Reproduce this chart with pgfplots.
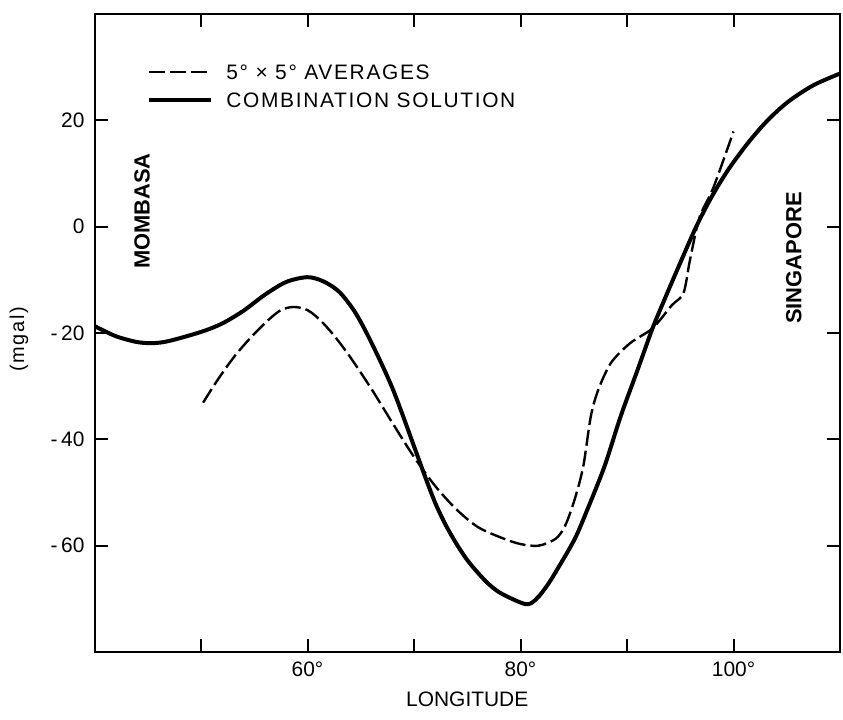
\documentclass[border=0pt]{standalone}
\usepackage{fontspec}
\setmainfont{Liberation Sans}
\usepackage{pgfplots}
\pgfplotsset{compat=1.18}

% combination solution (solid)
\pgfplotstableread{
x y
40 -18.7
42 -20.6
44 -21.7
45.5 -21.9
47 -21.5
50 -19.8
52 -18.2
54 -15.8
56 -12.8
58 -10.4
60 -9.5
61.5 -10.3
63 -12.3
64.5 -16.2
66 -21.8
68 -30.5
70 -41.3
71 -46.8
72 -52.0
73 -56.2
74 -59.7
75 -62.7
76 -65.1
77 -67.2
78.2 -69.0
80.5 -71.0
81.5 -70.0
82.5 -67.5
83.5 -64.3
85.1 -58.7
86.3 -53.1
87.9 -45.0
89.4 -35.7
91 -26.9
92.4 -19.1
93.5 -13.8
95 -6.8
96.5 0.0
98 5.8
99.6 11.0
101.5 16.1
103.3 20.2
105.2 23.6
107.5 26.6
110 28.8
}\combo

% 5x5 degree averages (dashed)
\pgfplotstableread{
x y
50.2 -33.1
51.5 -29.0
53.1 -24.5
54.7 -20.8
56.3 -17.6
57.5 -15.7
58.7 -15.1
60 -15.7
61.2 -17.6
62.5 -20.5
64 -24.5
66 -30.5
68 -37.0
70 -43.3
72 -48.8
74 -53.2
76 -56.5
78.2 -58.5
80 -59.7
81.7 -60.0
83.3 -58.7
84.2 -56.2
85.1 -51.2
85.9 -45.0
86.6 -35.7
87.3 -30.7
88.5 -25.6
90.3 -21.9
92.4 -19.1
94.2 -14.8
95.3 -12.5
95.9 -6.4
96.8 1.7
98.1 7.3
100 17.9
}\avg

\begin{document}
\begin{tikzpicture}
\begin{axis}[
  width=372.75bp, height=319bp, scale only axis,
  xmin=40, xmax=110, ymin=-80, ymax=40,
  axis line style={line width=1bp},
  tick align=inside, major tick length=6.5bp,
  every tick/.style={black, line width=1bp},
  xtick={50,60,...,100},
  xticklabels={,60°,,80°,,100°},
  ytick={-60,-40,...,20},
  yticklabels={-\,60,-\,40,-\,20,0,20},
  tick label style={font=\fontsize{10.5}{12}\selectfont},
  xticklabel style={yshift=-1.5bp},
  yticklabel style={xshift=-1.5bp},
  xlabel={LONGITUDE}, ylabel={(mgal)},
  every axis x label/.style={at={(rel axis cs:0.5,0)}, yshift=-23.5bp, anchor=center, font=\fontsize{10.5}{12}\selectfont},
  every axis y label/.style={at={(rel axis cs:0,0.49)}, xshift=-37.75bp, rotate=90, anchor=center, font=\fontsize{10}{12}\selectfont\addfontfeatures{LetterSpace=8}},
  legend style={draw=none, fill=none, at={(rel axis cs:0.0704,0.887)}, anchor=west,
    inner sep=0pt, row sep=3.5bp, /tikz/column sep=5bp,
    font=\fontsize{10.5}{12}\selectfont\addfontfeatures{LetterSpace=8},
    nodes={inner sep=1.5bp, text height=7.5bp, text depth=0bp}},
  legend cell align=left,
  legend image code/.code={\draw[#1] (0bp,0bp) -- (31bp,0bp);},
]
\addplot[black, line width=1.2bp, dash pattern=on 8bp off 2.5bp, smooth, tension=0.5] table {\avg};
\addlegendentry{5° × 5° AVERAGES}
\addplot[black, line width=2bp, smooth, tension=0.5] table {\combo};
\addlegendentry{COMBINATION SOLUTION}
\node[rotate=90, font=\bfseries\fontsize{11}{13}\selectfont] at (rel axis cs:0.0637,0.691) {MOMBASA};
\node[rotate=90, font=\bfseries\fontsize{11}{13}\selectfont] at (rel axis cs:0.938,0.6176) {SINGAPORE};
\end{axis}
\path (current axis.south west) ++(-47.25bp,-33.5bp);
\path (current axis.north east) ++(1.5bp,7bp);
\end{tikzpicture}
\end{document}
